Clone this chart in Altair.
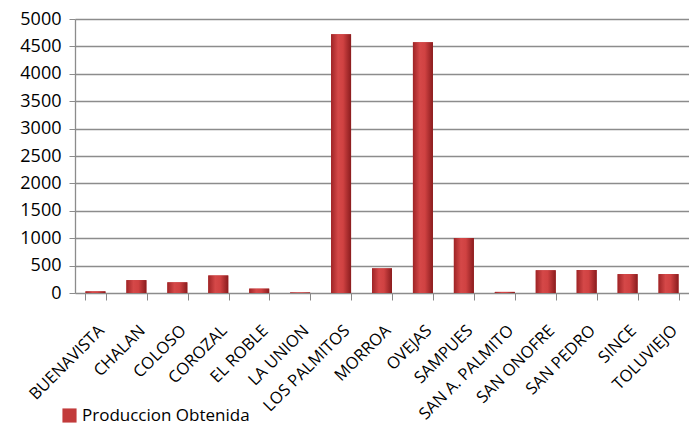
import altair as alt
import pandas as pd

municipios = ["BUENAVISTA", "CHALAN", "COLOSO", "COROZAL", "EL ROBLE", "LA UNION",
              "LOS PALMITOS", "MORROA", "OVEJAS", "SAMPUES", "SAN A. PALMITO",
              "SAN ONOFRE", "SAN PEDRO", "SINCE", "TOLUVIEJO"]
produccion = [30, 235, 195, 320, 80, 10, 4720, 450, 4575, 1005, 20, 415, 420, 345, 345]
serie = "Produccion Obtenida"

df = pd.DataFrame({"municipio": municipios, "valor": produccion, "serie": [serie] * len(municipios)})

FONT = "Open Sans"

x_enc = alt.X("municipio:N", sort=municipios, title=None,
              scale=alt.Scale(paddingInner=0.5, paddingOuter=0.25),
              axis=alt.Axis(labelAngle=-45, labelFontSize=16.5, labelColor="#000000",
                            labelFont=FONT, labelPadding=22, domain=False,
                            ticks=True, tickBand="extent", tickSize=7, tickColor="#888888",
                            grid=False, labelLimit=300))
y_enc = alt.Y("valor:Q", title=None,
              scale=alt.Scale(domain=[0, 5000], nice=False),
              axis=alt.Axis(values=list(range(0, 5001, 500)), format="d", labelFontSize=18,
                            labelFont=FONT, labelColor="#000000", labelPadding=8,
                            gridColor="#8c8c8c", gridWidth=1.3, domainColor="#8c8c8c",
                            domainWidth=1.3, tickColor="#8c8c8c", tickSize=6))

base = alt.Chart(df)

legend_bars = base.mark_bar(size=20).encode(
    x=x_enc, y=y_enc,
    color=alt.Color("serie:N", title=None,
                    scale=alt.Scale(range=["#C23B3B"]),
                    legend=alt.Legend(orient="none", legendX=-14, legendY=388,
                                      symbolType="square", symbolSize=200,
                                      symbolStrokeWidth=0, labelFontSize=17,
                                      labelFont=FONT, labelColor="#000000",
                                      labelLimit=400))
)

grad = alt.Gradient(gradient="linear", x1=0, x2=1, y1=0, y2=0,
                    stops=[alt.GradientStop(offset=0, color="#9E2426"),
                           alt.GradientStop(offset=0.35, color="#D54848"),
                           alt.GradientStop(offset=0.6, color="#D04242"),
                           alt.GradientStop(offset=1, color="#8A1C1E")])

bars = base.mark_bar(size=20, color=grad).encode(x=x_enc, y=y_enc)

chart = alt.layer(legend_bars, bars).properties(
    width=614, height=274,
    autosize=alt.AutoSizeParams(type="none"),
    padding={"left": 75, "top": 19, "right": 0, "bottom": 133},
).configure_view(stroke=None).configure(background="#ffffff")

chart.save("out.html", embed_options={"renderer": "svg", "actions": False})
